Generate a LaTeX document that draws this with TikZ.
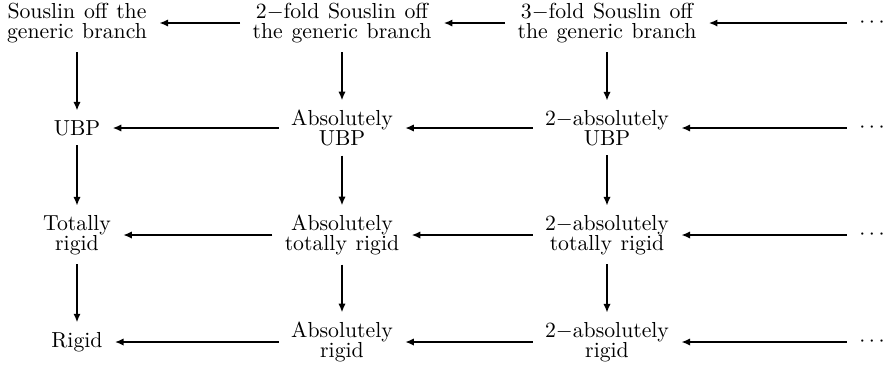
\documentclass[tikz,border=0pt]{standalone}
\usetikzlibrary{arrows.meta}
\newcommand\lblfont{\fontsize{10}{9}\selectfont\spaceskip 4pt plus 1pt\relax}
\begin{document}
\begin{tikzpicture}[x=0.46pt,y=-0.46pt,
  lbl/.style={align=center,inner xsep=5.5pt,inner ysep=4.3pt,font=\lblfont},
  imp/.style={-{Latex[length=4pt,width=3.4pt]},line width=1.1pt}]
\useasboundingbox (0,0) rectangle (886,364);
% row 1
\node[lbl] (a1) at (77,23) {Souslin off the\\generic branch};
\node[lbl] (a2) at (342,23) {2$-$fold Souslin off\\the generic branch};
\node[lbl] (a3) at (607,23) {3$-$fold Souslin off\\the generic branch};
\node[lbl] (a4) at (872,23) {$\cdots$};
% row 2
\node[lbl] (b1) at (77,128) {UBP};
\node[lbl] (b2) at (342,128) {Absolutely\\UBP};
\node[lbl] (b3) at (607,128) {2$-$absolutely\\UBP};
\node[lbl] (b4) at (872,128) {$\cdots$};
% row 3
\node[lbl] (c1) at (77,235) {Totally\\rigid};
\node[lbl] (c2) at (342,235) {Absolutely\\totally rigid};
\node[lbl] (c3) at (607,235) {2$-$absolutely\\totally rigid};
\node[lbl] (c4) at (872,235) {$\cdots$};
% row 4
\node[lbl] (d1) at (77,342) {Rigid};
\node[lbl] (d2) at (342,342) {Absolutely\\rigid};
\node[lbl] (d3) at (607,342) {2$-$absolutely\\rigid};
\node[lbl] (d4) at (872,342) {$\cdots$};
% horizontal arrows
\foreach \r in {a,b,c,d}{
  \draw[imp] (\r2) -- (\r1);
  \draw[imp] (\r3) -- (\r2);
  \draw[imp] (\r4) -- (\r3);
}
% vertical arrows
\foreach \c in {1,2,3}{
  \draw[imp] (a\c) -- (b\c);
  \draw[imp] (b\c) -- (c\c);
  \draw[imp] (c\c) -- (d\c);
}
\end{tikzpicture}
\end{document}
